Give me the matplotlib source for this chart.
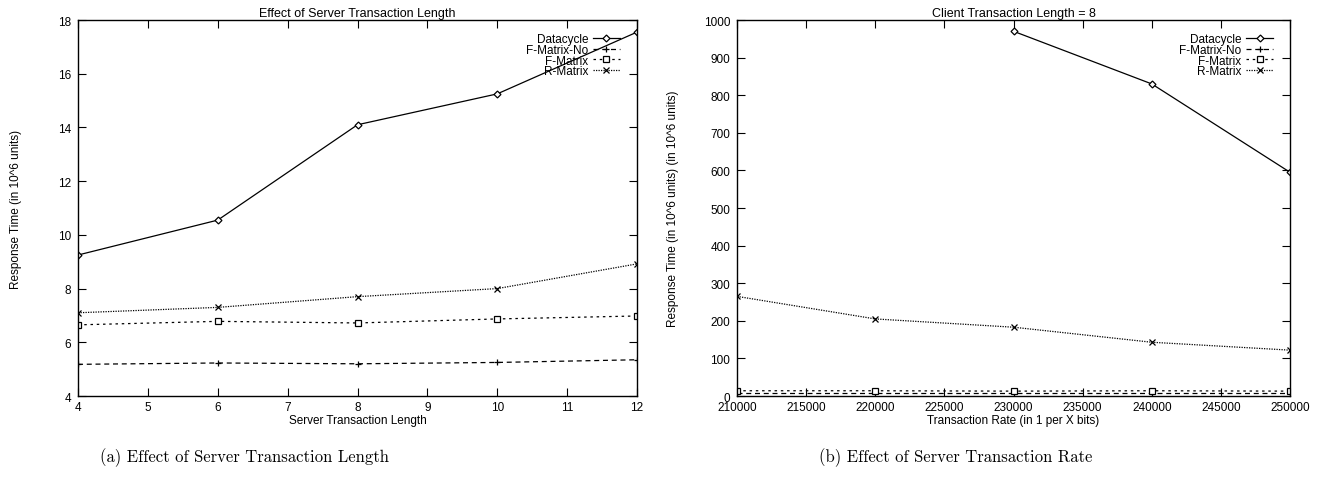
import matplotlib.pyplot as plt

plt.rcParams['font.family'] = ['Liberation Sans', 'DejaVu Sans']
plt.rcParams['font.size'] = 8.5

# (a) effect of server transaction length
srv_len = [4, 6, 8, 10, 12]
a_datacycle = [9.25, 10.55, 14.1, 15.25, 17.55]
a_fmatrix_no = [5.18, 5.23, 5.2, 5.25, 5.35]
a_fmatrix = [6.65, 6.78, 6.72, 6.87, 6.98]
a_rmatrix = [7.1, 7.3, 7.7, 8.0, 8.92]

# (b) effect of server transaction rate
rate = [210000, 220000, 230000, 240000, 250000]
b_dc_rate = [230000, 240000, 250000]
b_datacycle = [970, 830, 595]
b_fmatrix_no = [9, 9, 9, 9, 9]
b_fmatrix = [14, 14, 13, 14, 13]
b_rmatrix = [265, 205, 183, 143, 122]

styles = {
    'Datacycle': dict(ls='-', marker='D', ms=3.5, mfc='white'),
    'F-Matrix-No': dict(ls=(0, (4, 3)), marker='+', ms=5),
    'F-Matrix': dict(ls=(0, (2, 3)), marker='s', ms=4.5, mfc='white'),
    'R-Matrix': dict(ls=(0, (1, 1)), marker='x', ms=4.5),
}

fig = plt.figure(figsize=(13.29, 4.81), dpi=100)
ax1 = fig.add_axes([0.0587, 0.1746, 0.4206, 0.7817])
ax2 = fig.add_axes([0.5546, 0.1746, 0.4161, 0.7817])


def draw(ax, series):
    for name, x, y in series:
        ax.plot(x, y, color='black', lw=0.9, mew=0.9, label=name, **styles[name])
    ax.tick_params(direction='in', length=6, top=True, right=True, width=0.8,
                   labelsize=8.5)
    ax.tick_params(axis='y', pad=5)
    for s in ax.spines.values():
        s.set_linewidth(1.0)
    leg = ax.legend(loc='upper right', bbox_to_anchor=(0.98, 0.98),
                    frameon=False, markerfirst=False, handlelength=2.3,
                    handletextpad=0.4, labelspacing=-0.12, borderpad=0,
                    fontsize=8.5)
    for t in leg.get_texts():
        t.set_ha('right')
    leg._legend_box.align = 'right'


draw(ax1, [('Datacycle', srv_len, a_datacycle),
           ('F-Matrix-No', srv_len, a_fmatrix_no),
           ('F-Matrix', srv_len, a_fmatrix),
           ('R-Matrix', srv_len, a_rmatrix)])
ax1.set_xlim(4, 12)
ax1.set_ylim(4, 18)
ax1.set_xticks(range(4, 13))
ax1.set_yticks(range(4, 19, 2))
ax1.set_title('Effect of Server Transaction Length', fontsize=9, pad=3)
ax1.set_xlabel('Server Transaction Length', labelpad=1)
ax1.set_ylabel('Response Time (in 10^6 units)', labelpad=26)

draw(ax2, [('Datacycle', b_dc_rate, b_datacycle),
           ('F-Matrix-No', rate, b_fmatrix_no),
           ('F-Matrix', rate, b_fmatrix),
           ('R-Matrix', rate, b_rmatrix)])
ax2.set_xlim(210000, 250000)
ax2.set_ylim(0, 1000)
ax2.set_xticks(range(210000, 250001, 5000))
ax2.set_yticks(range(0, 1001, 100))
ax2.set_title('Client Transaction Length = 8', fontsize=9, pad=3)
ax2.set_xlabel('Transaction Rate (in 1 per X bits)', labelpad=1)
ax2.set_ylabel('Response Time (in 10^6 units) (in 10^6 units)', labelpad=18)

fig.text(0.184, 0.048, '(a) Effect of Server Transaction Length',
         family='cmr10', fontsize=12, ha='center', va='center')
fig.text(0.719, 0.048, '(b) Effect of Server Transaction Rate',
         family='cmr10', fontsize=12, ha='center', va='center')

fig.savefig('out.png', dpi=100)
